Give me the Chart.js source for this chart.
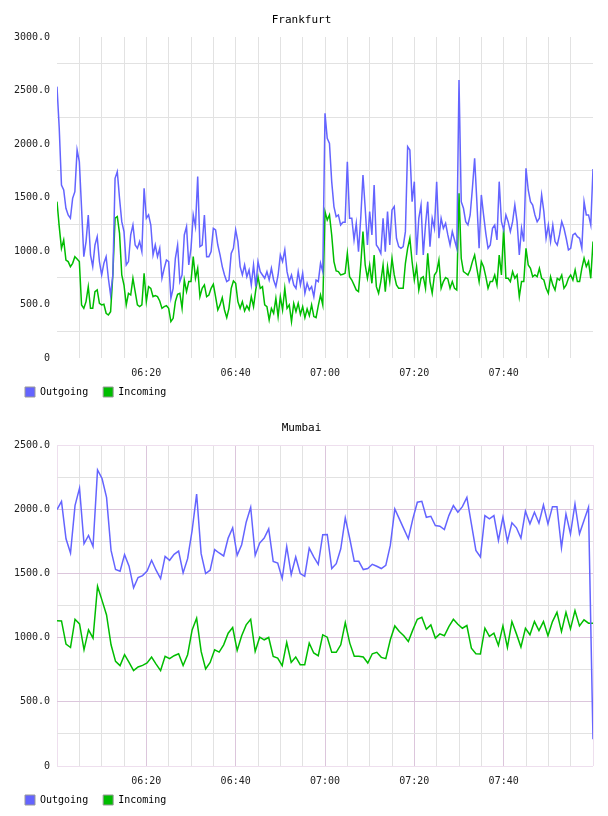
<!DOCTYPE html>
<html>
<head>
<meta charset="utf-8">
<script src="https://cdn.jsdelivr.net/npm/chart.js@4.4.1/dist/chart.umd.min.js"></script>
<style>
  html, body { margin: 0; padding: 0; background: #fff; }
  canvas { display: block; }
</style>
</head>
<body>
<canvas id="frankfurt" width="608" height="408"></canvas>
<canvas id="mumbai" width="608" height="408"></canvas>
<script>
// traffic samples, 06:00 - 08:00
const seriesNames = ['Outgoing', 'Incoming'];
const startHour = 6;
const windowMinutes = 120;

// Frankfurt: one sample every 30 s
const frankfurtOutgoing = [
  2536, 2147, 1617, 1570, 1399, 1337, 1306, 1492, 1555, 1944, 1835, 1399, 947, 1088, 1337, 963, 854, 1056, 1134, 901,
  776, 885, 947, 745, 589, 776, 1679, 1742, 1492, 1274, 1181, 869, 901, 1150, 1243, 1056, 1025, 1088, 994, 1586,
  1306, 1337, 1243, 963, 1056, 947, 1025, 745, 838, 916, 901, 558, 651, 932, 1056, 714, 776, 1150, 1228, 869,
  1025, 1337, 1228, 1695, 1041, 1056, 1337, 947, 947, 994, 1212, 1197, 1056, 963, 854, 776, 714, 729, 978, 1025,
  1197, 1088, 854, 776, 869, 760, 823, 683, 869, 667, 901, 807, 776, 745, 807, 729, 838, 729, 667, 776,
  963, 901, 1010, 807, 714, 776, 683, 651, 807, 683, 792, 605, 698, 636, 667, 573, 729, 714, 885, 807,
  2287, 2053, 2006, 1648, 1415, 1321, 1337, 1243, 1268, 1268, 1835, 1306, 1306, 1103, 1259, 994, 1306, 1710, 1399, 1056,
  1368, 1150, 1617, 1056, 1025, 978, 1306, 994, 1368, 1056, 1384, 1415, 1119, 1041, 1025, 1041, 1181, 1975, 1944, 1461,
  1648, 963, 1306, 1430, 963, 1243, 1461, 1041, 1306, 1212, 1648, 1119, 1306, 1212, 1259, 1150, 1056, 1181, 1103, 1025,
  2598, 1461, 1399, 1274, 1243, 1337, 1586, 1866, 1461, 1025, 1524, 1337, 1165, 1025, 1056, 1212, 1243, 1103, 1648, 1274,
  1197, 1337, 1274, 1181, 1274, 1430, 1274, 963, 1212, 1088, 1773, 1570, 1461, 1430, 1337, 1274, 1306, 1524, 1368, 1119,
  1243, 1088, 1243, 1088, 1056, 1150, 1274, 1212, 1119, 1010, 1025, 1150, 1165, 1134, 1119, 1025, 1461, 1337, 1337, 1243,
  1767
];
const frankfurtIncoming = [
  1461, 1228, 1025, 1103, 916, 901, 854, 885, 947, 926, 901, 496, 464, 527, 667, 464, 464, 620, 636, 511,
  496, 502, 418, 402, 433, 776, 1306, 1321, 1165, 776, 682, 496, 605, 589, 745, 620, 496, 480, 496, 792,
  527, 667, 651, 573, 583, 573, 533, 464, 480, 489, 464, 340, 371, 527, 595, 605, 464, 729, 620, 714,
  714, 947, 745, 838, 573, 651, 683, 573, 589, 651, 689, 573, 449, 496, 564, 449, 377, 464, 651, 720,
  698, 527, 464, 527, 440, 489, 449, 573, 480, 636, 760, 651, 667, 496, 480, 355, 464, 418, 558, 387,
  573, 449, 651, 464, 496, 340, 511, 433, 511, 408, 480, 377, 458, 396, 496, 387, 377, 489, 589, 496,
  1368, 1290, 1337, 1150, 901, 813, 807, 776, 782, 792, 978, 760, 729, 683, 636, 620, 869, 1181, 869, 745,
  869, 698, 963, 667, 605, 714, 869, 620, 854, 714, 932, 776, 683, 651, 651, 651, 885, 1025, 1119, 901,
  729, 854, 636, 745, 760, 651, 978, 714, 605, 776, 807, 916, 651, 714, 751, 739, 651, 714, 651, 636,
  1539, 932, 807, 792, 776, 823, 901, 963, 838, 714, 901, 854, 760, 651, 714, 714, 776, 683, 963, 776,
  1212, 745, 745, 714, 807, 745, 776, 573, 714, 714, 1025, 869, 838, 760, 776, 760, 838, 745, 729, 651,
  605, 760, 683, 636, 745, 729, 776, 651, 683, 745, 776, 729, 823, 714, 714, 838, 932, 854, 901, 745,
  1088
];

// Mumbai: roughly one sample a minute
const mumbaiOutgoing = [
  1997, 2061, 1770, 1659, 2028, 2164, 1731, 1796, 1710, 2306, 2239, 2092, 1679, 1530, 1517, 1646, 1556, 1388, 1468, 1483,
  1519, 1602, 1525, 1460, 1633, 1602, 1648, 1674, 1504, 1615, 1834, 2118, 1654, 1499, 1525, 1685, 1659, 1636, 1775, 1855,
  1641, 1723, 1899, 2015, 1641, 1736, 1775, 1847, 1594, 1581, 1460, 1710, 1491, 1628, 1499,
  1478, 1697, 1628, 1571, 1801, 1803, 1538, 1576, 1692, 1932, 1770, 1594, 1594, 1530, 1538, 1571, 1556, 1538, 1563, 1718,
  2002, 1925, 1847, 1770, 1925, 2054, 2061, 1937, 1945, 1873, 1868, 1842, 1950, 2028, 1976, 2020, 2092, 1886, 1679, 1628,
  1950, 1925, 1950, 1757, 1937, 1749, 1894, 1855, 1775, 1984, 1886, 1976, 1891, 2033, 1886, 2020, 2020, 1700, 1963, 1808,
  2041, 1808, 1912, 2015, 209
];
const mumbaiIncoming = [
  1132, 1130, 949, 923, 1143, 1107, 905, 1060, 996, 1400, 1290, 1176, 944, 815, 782, 867, 807, 743, 771, 784,
  802, 849, 794, 743, 854, 836, 859, 874, 782, 867, 1060, 1150, 892, 756, 807, 905, 887, 944, 1034, 1078,
  900, 1014, 1099, 1143, 892, 1003, 983, 1001, 854, 841, 782, 962, 807, 849, 789,
  789, 957, 880, 859, 1022, 1003, 885, 885, 944, 1117, 957, 854, 854, 849, 802, 874, 885, 846, 836, 983,
  1091, 1047, 1014, 970, 1060, 1143, 1158, 1065, 1099, 996, 1029, 1014, 1086, 1143, 1104, 1073, 1094, 918, 874, 872,
  1073, 1009, 1034, 939, 1091, 923, 1125, 1029, 926, 1073, 1022, 1125, 1055, 1125, 1014, 1125, 1197, 1047, 1197, 1068,
  1210, 1091, 1138, 1112, 1112
];

const colors = ['#6464ff', '#00bd00'];
const FONT = 'DejaVu Sans Mono';

function toPoints(values) {
  const step = windowMinutes / (values.length - 1);
  return values.map((v, i) => ({ x: i * step, y: v }));
}

function clockLabel(min) {
  const h = startHour + Math.floor(min / 60);
  const m = min % 60;
  return String(h).padStart(2, '0') + ':' + String(m).padStart(2, '0');
}

// pull the legend up a few px, closer to the time labels
const legendLift = {
  id: 'legendLift',
  afterLayout(chart) {
    chart.legend.top -= 7;
    chart.legend.bottom -= 7;
  }
};

function makeChart(id, title, outgoing, incoming, yMax, gridX, gridY) {
  const ctx = document.getElementById(id).getContext('2d');
  return new Chart(ctx, {
    type: 'line',
    plugins: [legendLift],
    data: {
      datasets: [outgoing, incoming].map((vals, k) => ({
        label: seriesNames[k],
        data: toPoints(vals),
        borderColor: colors[k],
        backgroundColor: colors[k],
        borderWidth: 1.5,
        pointRadius: 0,
        tension: 0,
        fill: false
      }))
    },
    options: {
      responsive: false,
      animation: false,
      events: [],
      layout: { padding: { left: 10, right: 15, top: 3.8, bottom: -6 } },
      plugins: {
        title: {
          display: true,
          text: title,
          color: '#000',
          font: { family: FONT, size: 11, weight: 'normal' },
          padding: { top: 10, bottom: 10 }
        },
        legend: {
          position: 'bottom',
          align: 'start',
          labels: {
            boxWidth: 10,
            boxHeight: 10,
            padding: 15,
            color: '#000',
            font: { family: FONT, size: 10 },
            generateLabels: (chart) =>
              Chart.defaults.plugins.legend.labels.generateLabels(chart).map(l => ({
                ...l, strokeStyle: '#999', lineWidth: 1
              }))
          }
        },
        tooltip: { enabled: false }
      },
      scales: {
        x: {
          type: 'linear',
          min: 0,
          max: windowMinutes,
          afterFit: (s) => { s.height = 21; },
          border: { display: false },
          grid: { drawTicks: false, lineWidth: 1, color: (c) => gridX(c.tick.value) },
          ticks: {
            stepSize: 5,
            autoSkip: false,
            maxRotation: 0,
            padding: 9,
            color: '#222',
            font: { family: FONT, size: 10 },
            callback: (v) => (v % 20 === 0 && v > 0 && v < windowMinutes) ? clockLabel(v) : ''
          }
        },
        y: {
          min: 0,
          max: yMax,
          afterFit: (s) => { s.width = 47; },
          border: { display: false },
          grid: { drawTicks: false, lineWidth: 1, color: (c) => gridY(c.tick.value, yMax) },
          ticks: {
            stepSize: 250,
            padding: 7,
            color: '#222',
            font: { family: FONT, size: 10 },
            callback: (v) => v % 500 === 0 ? (v === 0 ? '0' : v.toFixed(1)) : ''
          }
        }
      }
    }
  });
}

const NONE = 'rgba(0,0,0,0)';
const GREY = '#e2e2e2';
const MAJOR = '#dcc6dc';
const EDGE = '#eedfee';

makeChart('frankfurt', 'Frankfurt', frankfurtOutgoing, frankfurtIncoming, 3000,
  (v) => (v === 0 || v === windowMinutes) ? NONE : GREY,
  (v) => v % 500 === 0 ? NONE : GREY);

makeChart('mumbai', 'Mumbai', mumbaiOutgoing, mumbaiIncoming, 2500,
  (v) => (v === 0 || v === windowMinutes) ? EDGE : (v % 20 === 0 ? MAJOR : GREY),
  (v, max) => (v === 0 || v === max) ? EDGE : (v % 500 === 0 ? MAJOR : GREY));
</script>
</body>
</html>
